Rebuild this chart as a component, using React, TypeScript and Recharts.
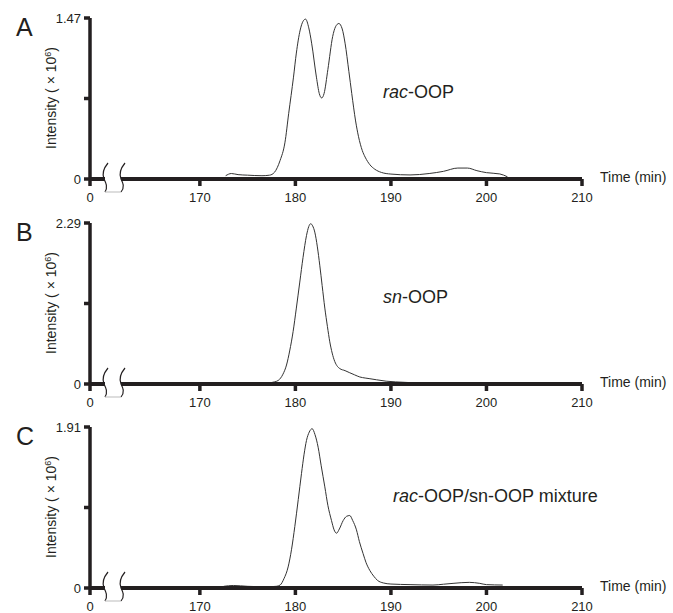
import React from "react";
import { LineChart, Line, XAxis, YAxis } from "recharts";

// time axis (min) and intensity (x10^6)
const timeA = [
  172.7, 173.3, 174.0, 175.0, 176.5, 177.3, 177.8, 178.4, 178.9, 179.3, 179.8,
  180.1, 180.5, 180.8, 181.06, 181.4, 181.7, 182.2, 182.5, 182.75, 183.0, 183.4,
  183.9, 184.2, 184.55, 184.9, 185.2, 185.6, 185.9, 186.3, 186.6, 187.0, 187.3,
  187.8, 188.3, 189.0, 190.0, 192.0, 194.0, 195.5, 197.0, 198.0, 199.0, 200.0,
  201.4, 202.2,
];
const intensityA = [
  0.03, 0.05, 0.04, 0.035, 0.03, 0.035, 0.06, 0.17, 0.33, 0.6, 0.93, 1.15, 1.36,
  1.44, 1.46, 1.38, 1.24, 0.93, 0.78, 0.74, 0.78, 1.0, 1.3, 1.39, 1.42, 1.37,
  1.24, 0.98, 0.78, 0.53, 0.39, 0.26, 0.2, 0.13, 0.09, 0.06, 0.045, 0.037, 0.05,
  0.07, 0.1, 0.1, 0.076, 0.058, 0.046, 0.02,
];

const timeB = [
  177.0, 177.8, 178.2, 178.7, 179.07, 179.4, 179.76, 180.1, 180.46, 180.8,
  181.16, 181.4, 181.6, 181.8, 182.03, 182.3, 182.55, 182.8, 183.08, 183.35,
  183.6, 183.85, 184.12, 184.4, 184.64, 185.2, 185.69, 186.2, 186.74, 187.3,
  187.8, 188.5, 189.5, 190.5, 192.0, 194.0, 196.0, 198.0, 200.0,
];
const intensityB = [
  0.01, 0.03, 0.05, 0.14, 0.27, 0.47, 0.745, 1.08, 1.45, 1.8, 2.11, 2.24, 2.28,
  2.25, 2.16, 1.95, 1.69, 1.4, 1.08, 0.82, 0.6, 0.44, 0.32, 0.25, 0.22, 0.19,
  0.16, 0.13, 0.1, 0.085, 0.075, 0.06, 0.04, 0.03, 0.02, 0.015, 0.012, 0.01,
  0.008,
];

const timeC = [
  172.5, 173.5, 175.0, 177.0, 178.0, 178.4, 178.8, 179.24, 179.6, 179.94, 180.3,
  180.64, 180.9, 181.16, 181.45, 181.75, 182.05, 182.38, 182.7, 183.08, 183.4,
  183.78, 184.05, 184.3, 184.6, 185.0, 185.35, 185.69, 186.0, 186.39, 186.7,
  187.08, 187.4, 187.78, 188.2, 188.6, 189.2, 190.0, 192.0, 194.4, 195.5, 196.5,
  198.2, 199.3, 200.0, 201.7,
];
const intensityC = [
  0.02, 0.03, 0.02, 0.015, 0.02, 0.035, 0.11, 0.25, 0.46, 0.73, 1.05, 1.36,
  1.58, 1.75, 1.85, 1.89, 1.82, 1.67, 1.45, 1.2, 0.98, 0.8, 0.69, 0.65, 0.7, 0.8,
  0.85, 0.86, 0.8, 0.69, 0.55, 0.41, 0.3, 0.21, 0.14, 0.09, 0.06, 0.047, 0.04,
  0.035, 0.045, 0.055, 0.067, 0.055, 0.04, 0.035,
];

// first tick stands for "0", the rest of the axis is broken away
const xTicks = [158.5, 170, 180, 190, 200, 210];
const yMax = [1.47, 2.29, 1.91];
const panelLetters = ["A", "B", "C"];

const INK = "#231f20";
const FONT = "'Liberation Sans', Arial, sans-serif";

const toRows = (t: number[], v: number[]) => t.map((x, i) => ({ t: x, v: v[i] }));

const BreakMark = ({ x, y }: { x: number; y: number }) => (
  <g>
    <rect x={x + 15} y={y - 3} width={16} height={6} fill="#fff" />
    <path
      d={`M${x + 18},${y - 16} C${x + 13},${y - 10} ${x + 12},${y - 5} ${x + 14},${y} C${x + 16},${y + 4} ${x + 18},${y + 8} ${x + 15},${y + 13}`}
      fill="none"
      stroke={INK}
      strokeWidth={1.2}
    />
    <path
      d={`M${x + 35},${y - 16} C${x + 30},${y - 10} ${x + 29},${y - 5} ${x + 31},${y} C${x + 33},${y + 4} ${x + 35},${y + 8} ${x + 31},${y + 13}`}
      fill="none"
      stroke={INK}
      strokeWidth={1.2}
    />
    <line x1={x + 15} x2={x + 31} y1={y + 13} y2={y + 13} stroke="#bbb" strokeWidth={1} />
  </g>
);

const XTick = (props: any) => {
  const { x, y, payload } = props;
  const isZero = payload.value < 160;
  return (
    <g>
      {isZero && <BreakMark x={x} y={y - 14} />}
      <text
        x={x}
        y={y}
        dy="0.71em"
        textAnchor="middle"
        fontSize={13}
        fill={INK}
        fontFamily={FONT}
      >
        {isZero ? "0" : String(payload.value)}
      </text>
    </g>
  );
};

const Panel = ({ data, max }: { data: { t: number; v: number }[]; max: number }) => (
  <LineChart
    width={673}
    height={204}
    data={data}
    margin={{ top: 18, right: 91, bottom: 0, left: 0 }}
  >
    <XAxis
      type="number"
      dataKey="t"
      domain={[158.5, 210]}
      ticks={xTicks}
      allowDataOverflow
      height={25}
      tickSize={7}
      tickMargin={7}
      axisLine={{ stroke: INK, strokeWidth: 4 }}
      tickLine={{ stroke: INK, strokeWidth: 3.5 }}
      tick={<XTick />}
    />
    <YAxis
      type="number"
      domain={[0, max]}
      ticks={[0, max / 2, max]}
      width={90}
      tickSize={6}
      tickMargin={3}
      axisLine={{ stroke: INK, strokeWidth: 3.5 }}
      tickLine={{ stroke: INK, strokeWidth: 3.5 }}
      tick={{ fontSize: 13, fill: INK, fontFamily: FONT }}
      tickFormatter={(v: number) => (v === 0 ? "0" : v === max ? max.toFixed(2) : "")}
    />
    <Line
      type="monotone"
      dataKey="v"
      stroke="#333"
      strokeWidth={1}
      dot={false}
      isAnimationActive={false}
    />
  </LineChart>
);

const panelTops = [0, 205, 409];
const panelData = [
  toRows(timeA, intensityA),
  toRows(timeB, intensityB),
  toRows(timeC, intensityC),
];

export default function App() {
  return (
    <div style={{ position: "absolute", left: 0, top: 0, width: 673, height: 613, background: "#fff" }}>
      {panelData.map((d, i) => (
        <div key={i} style={{ position: "absolute", left: 0, top: panelTops[i] }}>
          <Panel data={d} max={yMax[i]} />
        </div>
      ))}
      <svg
        width={673}
        height={613}
        style={{ position: "absolute", left: 0, top: 0, pointerEvents: "none" }}
        fontFamily={FONT}
        fill={INK}
      >
        {panelTops.map((top, i) => {
          const plotTop = top + 18;
          const axisY = top + 179;
          return (
            <g key={i}>
              <text x={16} y={plotTop + 18} fontSize={25}>
                {panelLetters[i]}
              </text>
              <text
                x={56}
                y={plotTop + 80}
                fontSize={14}
                textAnchor="middle"
                transform={`rotate(-90, 56, ${plotTop + 80})`}
              >
                Intensity ( × 10
                <tspan dy={-5} fontSize={9}>
                  6
                </tspan>
                <tspan dy={5}>)</tspan>
              </text>
              <text x={600} y={axisY + 3} fontSize={14}>
                Time (min)
              </text>
            </g>
          );
        })}
        <text x={383} y={98} fontSize={18}>
          <tspan fontStyle="italic">rac</tspan>-OOP
        </text>
        <text x={383} y={303} fontSize={18}>
          <tspan fontStyle="italic">sn</tspan>-OOP
        </text>
        <text x={393} y={502} fontSize={18}>
          <tspan fontStyle="italic">rac</tspan>-OOP/sn-OOP mixture
        </text>
      </svg>
    </div>
  );
}
